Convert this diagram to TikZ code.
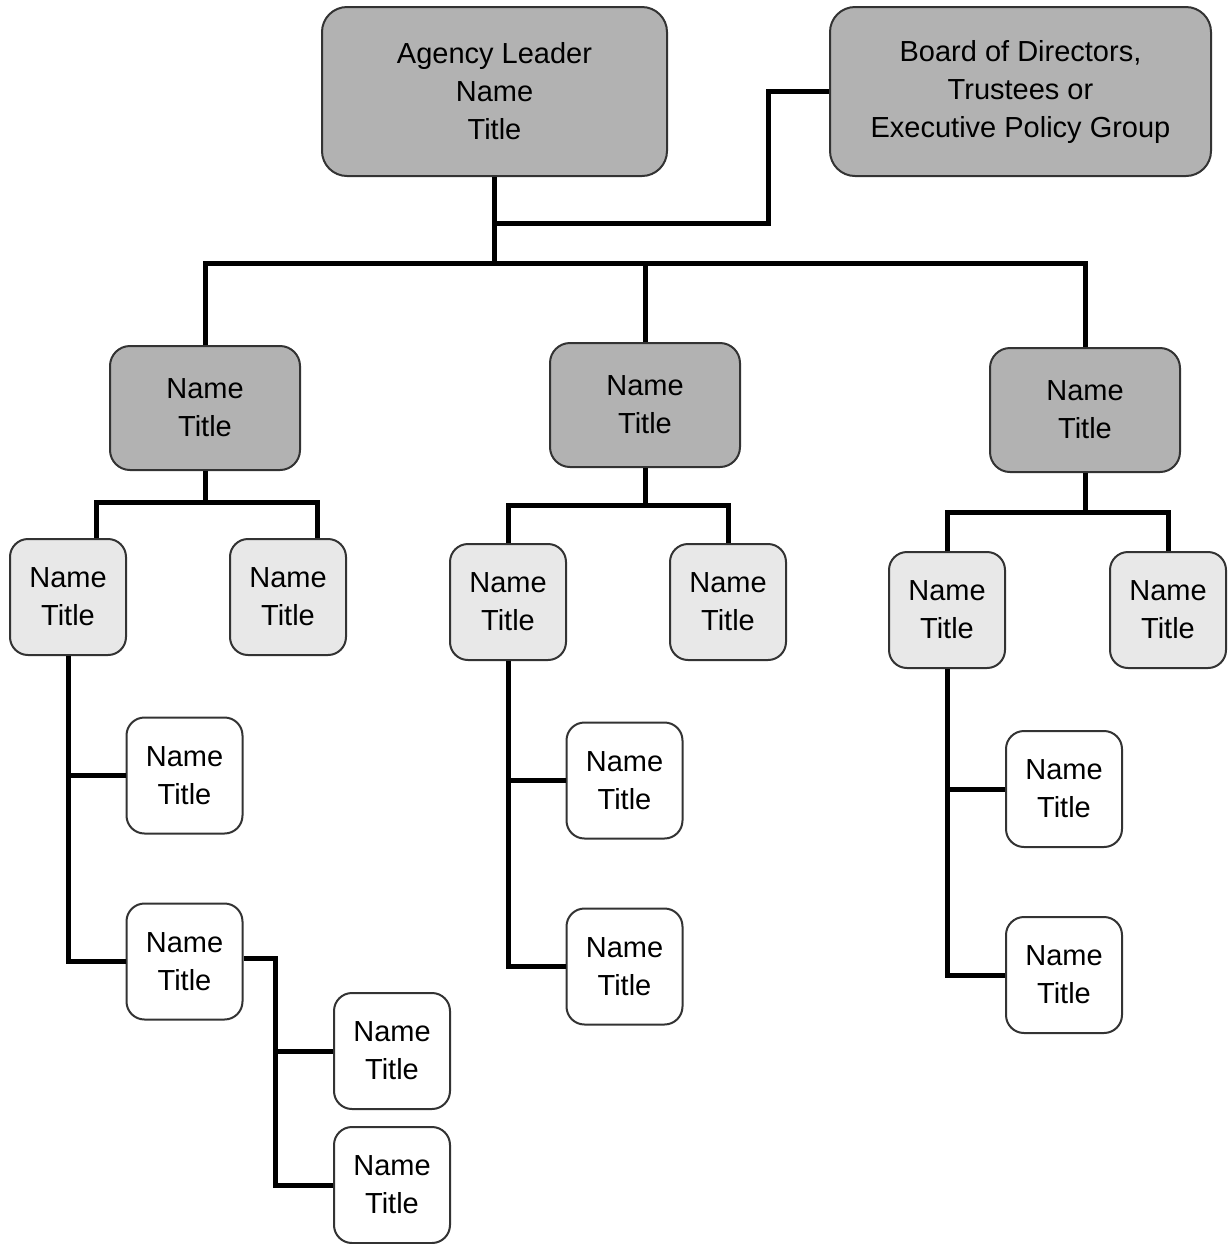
\documentclass[tikz,border=0pt]{standalone}
\usepackage{fontspec}
\setmainfont{Liberation Sans}
\begin{document}
\begin{tikzpicture}[x=0.5pt,y=-0.5pt,
  box/.style={draw=black!80, line width=1pt, align=center, inner sep=0pt,
    font=\fontsize{14.5pt}{19pt}\selectfont},
  topbox/.style={box, fill=black!30, rounded corners=12.5pt, minimum height=84.5pt},
  midbox/.style={box, fill=black!30, rounded corners=10pt, minimum width=95pt, minimum height=62pt},
  subbox/.style={box, fill=black!9, rounded corners=9pt, minimum width=58pt, minimum height=58pt},
  leafbox/.style={box, fill=white, rounded corners=9pt, minimum width=58pt, minimum height=58pt},
  conn/.style={line width=2.5pt, line join=miter}]
\useasboundingbox (0,0) rectangle (1231,1244);
% top level
\node[topbox, minimum width=172.5pt] (agency) at (494.5,91.5) {Agency Leader\\Name\\Title};
\node[topbox, minimum width=190.5pt] (board) at (1020.5,91.5) {Board of Directors,\\Trustees or\\Executive Policy Group};
% level 2
\node[midbox] (n1) at (205,408) {Name\\Title};
\node[midbox] (n2) at (645,405) {Name\\Title};
\node[midbox] (n3) at (1085,410) {Name\\Title};
% level 3
\node[subbox] (l1) at (68,597) {Name\\Title};
\node[subbox] (l2) at (288,597) {Name\\Title};
\node[subbox] (m1) at (508,602) {Name\\Title};
\node[subbox] (m2) at (728,602) {Name\\Title};
\node[subbox] (r1) at (947,610) {Name\\Title};
\node[subbox] (r2) at (1168,610) {Name\\Title};
% level 4
\node[leafbox] (w1) at (184.5,775.5) {Name\\Title};
\node[leafbox] (w2) at (184.5,961.5) {Name\\Title};
\node[leafbox] (w3) at (392,1051) {Name\\Title};
\node[leafbox] (w4) at (392,1185) {Name\\Title};
\node[leafbox] (w5) at (624.5,780.5) {Name\\Title};
\node[leafbox] (w6) at (624.5,966.5) {Name\\Title};
\node[leafbox] (w7) at (1064,789) {Name\\Title};
\node[leafbox] (w8) at (1064,975) {Name\\Title};
% coordinates
\coordinate (hub) at (494.5,263);
\coordinate (bh) at (494.5,223);
\coordinate (bk) at (768,223);
\coordinate (j1) at (205,502);
\coordinate (j2) at (645,505);
\coordinate (j3) at (1085,512);
\coordinate (dl1) at ([xshift=14pt]l1.north);
\coordinate (dl2) at ([xshift=14.5pt]l2.north);
\coordinate (k) at ([xshift=16pt]w2.east);
% connectors top
\draw[conn] (agency.south) -- (hub);
\draw[conn] (bh) -- (bk) |- (board.west);
\draw[conn] (n1.north) |- (hub) -| (n3.north);
\draw[conn] (n2.north) -- (n2.north |- hub);
% level 2 to 3
\draw[conn] (n1.south) -- (j1);
\draw[conn] (dl1) |- (j1) -| (dl2);
\draw[conn] (n2.south) -- (j2);
\draw[conn] (m1.north) |- (j2) -| (m2.north);
\draw[conn] (n3.south) -- (j3);
\draw[conn] (r1.north) |- (j3) -| (r2.north);
% level 3 to 4
\draw[conn] (l1.south) |- (w2.west);
\draw[conn] (l1.south |- w1.west) -- (w1.west);
\draw[conn] (m1.south) |- (w6.west);
\draw[conn] (m1.south |- w5.west) -- (w5.west);
\draw[conn] (r1.south) |- (w8.west);
\draw[conn] (r1.south |- w7.west) -- (w7.west);
% level 4 to 5
\draw[conn] ([yshift=1.5pt]w2.east) -- ([yshift=1.5pt]k) |- (w4.west);
\draw[conn] (k |- w3.west) -- (w3.west);
\end{tikzpicture}
\end{document}
